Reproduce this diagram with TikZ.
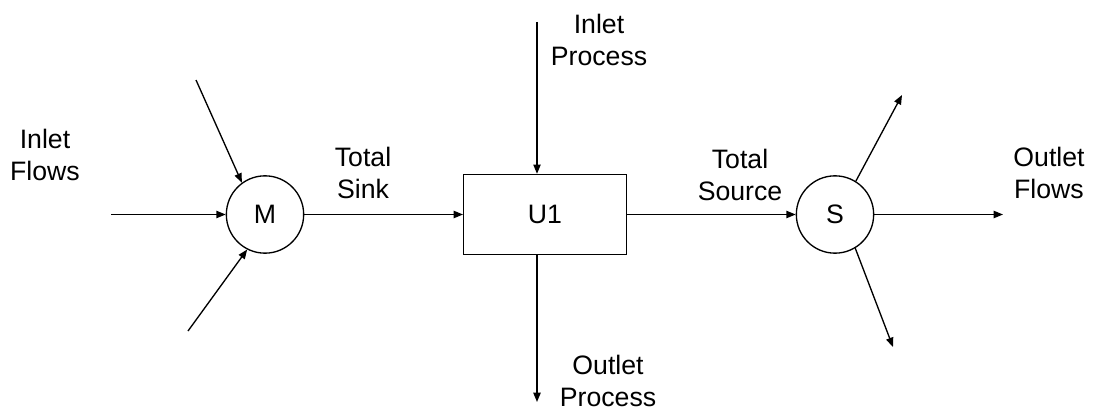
\documentclass[tikz,border=0pt]{standalone}
\usepackage{fontspec}
\setmainfont{Liberation Sans}
\usetikzlibrary{arrows.meta,positioning}
\tikzset{
  unitbox/.style={rectangle, draw=black, fill=white, line width=1pt, minimum width=122pt, minimum height=60pt, inner sep=0pt},
  nodecirc/.style={circle, draw=black, fill=white, line width=1pt, minimum size=58pt, inner sep=0pt},
  lbl/.style={align=center, inner sep=0pt},
  flow/.style={-{Triangle[length=7pt,width=5.5pt]}, draw=black, line width=1pt},
}

\begin{document}
\begin{tikzpicture}[x=0.75pt,y=-0.75pt, every node/.style={font=\fontsize{20pt}{24pt}\selectfont}]
\useasboundingbox (0,0) rectangle (1094,410);

\node[nodecirc] (mix) at (265,214.5) {M};
\node[unitbox]  (u1)  at (545,214.5) {U1};
\node[nodecirc] (spl) at (835,214.5) {S};

% free ends
\coordinate (in1) at (196,80);
\coordinate (in2) at (111,214.5);
\coordinate (in3) at (188,331);
\coordinate (ip)  at (537,22);
\coordinate (op)  at (537,402);
\coordinate (out1) at (902,95);
\coordinate (out2) at (1003,214.5);
\coordinate (out3) at (893,347);

\draw[flow] (in1) -- (mix.126);
\draw[flow] (in2) -- (mix);
\draw[flow] (in3) -- (mix.243);
\draw[flow] (mix) -- (u1);
\draw[flow] (ip) -- (ip |- u1.north);
\draw[flow] (op |- u1.south) -- (op);
\draw[flow] (u1) -- (spl);
\draw[flow] (spl.58) -- (out1);
\draw[flow] (spl) -- (out2);
\draw[flow] (spl.301) -- (out3);

\node[lbl] (lin)  at (45,155)  {Inlet\\Flows};
\node[lbl] (lsk)  at (363,173) {Total\\Sink};
\node[lbl] (lsr)  at (740,175) {Total\\Source};
\node[lbl] (lout) at (1049,173) {Outlet\\Flows};
\node[lbl] (lip)  at (599,40)  {Inlet\\Process};
\node[lbl] (lop)  at (608,381) {Outlet\\Process};
\end{tikzpicture}
\end{document}
